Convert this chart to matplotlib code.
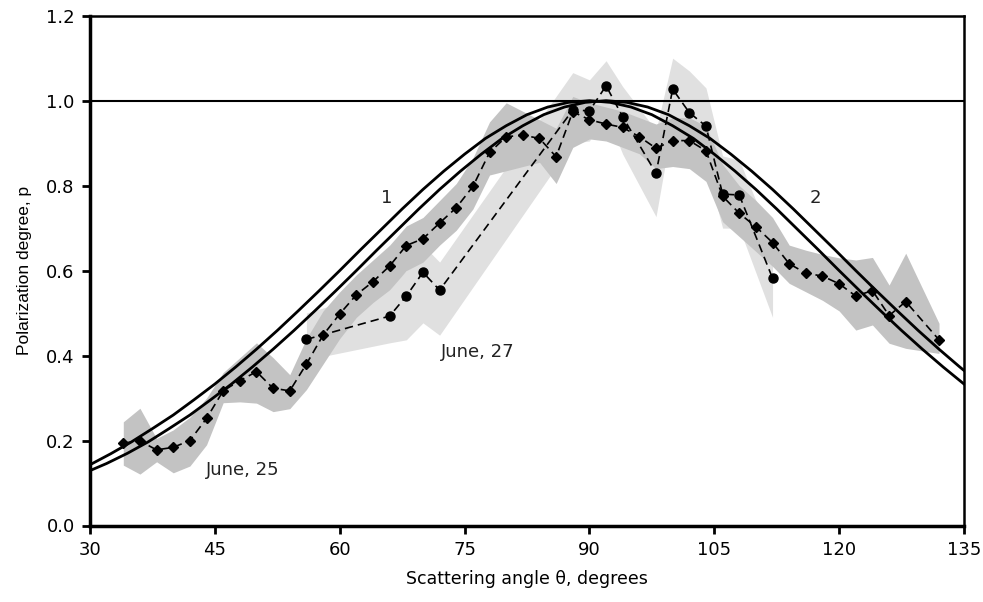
import matplotlib
matplotlib.use('Agg')
import matplotlib.pyplot as plt
import numpy as np

plt.rcParams['font.family'] = ['DejaVu Sans']

# June 25 observations (diamonds) and the dark band around them
ang25 = [34, 36, 38, 40, 42, 44, 46, 48, 50, 52, 54, 56, 58, 60, 62, 64, 66, 68, 70, 72,
         74, 76, 78, 80, 82, 84, 86, 88, 90, 92, 94, 96, 98, 100, 102, 104, 106, 108, 110,
         112, 114, 116, 118, 120, 122, 124, 126, 128, 132]
p25 = [0.194, 0.199, 0.178, 0.184, 0.200, 0.252, 0.317, 0.341, 0.362, 0.323, 0.317, 0.380,
       0.448, 0.498, 0.543, 0.574, 0.611, 0.659, 0.675, 0.712, 0.748, 0.798, 0.878, 0.915,
       0.919, 0.911, 0.868, 0.974, 0.955, 0.945, 0.937, 0.915, 0.888, 0.906, 0.906, 0.882,
       0.775, 0.735, 0.703, 0.666, 0.616, 0.594, 0.587, 0.569, 0.540, 0.553, 0.494, 0.527, 0.437]
hi25 = [0.244, 0.276, 0.205, 0.225, 0.255, 0.300, 0.360, 0.395, 0.430, 0.395, 0.355, 0.440,
        0.505, 0.550, 0.590, 0.625, 0.660, 0.705, 0.725, 0.765, 0.805, 0.865, 0.950, 0.995,
        0.975, 0.955, 0.935, 1.010, 0.995, 0.985, 0.975, 0.960, 0.945, 0.960, 0.960, 0.940,
        0.850, 0.800, 0.765, 0.725, 0.660, 0.648, 0.638, 0.630, 0.625, 0.631, 0.566, 0.641, 0.476]
lo25 = [0.142, 0.121, 0.150, 0.124, 0.140, 0.190, 0.289, 0.291, 0.288, 0.268, 0.275, 0.320,
        0.380, 0.440, 0.490, 0.525, 0.555, 0.600, 0.620, 0.660, 0.695, 0.745, 0.825, 0.835,
        0.845, 0.855, 0.805, 0.890, 0.910, 0.905, 0.890, 0.875, 0.840, 0.845, 0.840, 0.810,
        0.715, 0.680, 0.645, 0.610, 0.570, 0.550, 0.530, 0.505, 0.460, 0.472, 0.429, 0.417, 0.405]

# June 27 observations (circles) and the light band around them
ang27 = [56, 66, 68, 70, 72, 88, 90, 92, 94, 98, 100, 102, 104, 106, 108, 112]
p27 = [0.438, 0.493, 0.540, 0.596, 0.554, 0.978, 0.976, 1.035, 0.962, 0.829, 1.027,
       0.972, 0.940, 0.780, 0.778, 0.582]
hi27 = [0.500, 0.560, 0.600, 0.660, 0.620, 1.066, 1.049, 1.094, 1.033, 0.930, 1.100,
        1.070, 1.030, 0.870, 0.860, 0.670]
lo27 = [0.390, 0.430, 0.437, 0.477, 0.448, 0.900, 0.905, 0.970, 0.874, 0.727, 0.950,
        0.870, 0.850, 0.700, 0.700, 0.490]

# model curves 1 and 2
ang_c1 = np.arange(30, 135.01, 2.5)
p_c1 = [0.143, 0.169, 0.197, 0.228, 0.260, 0.296, 0.333, 0.373, 0.415, 0.459, 0.505, 0.552,
        0.600, 0.649, 0.697, 0.745, 0.791, 0.834, 0.874, 0.911, 0.941, 0.967, 0.985, 0.996,
        1.000, 0.996, 0.985, 0.967, 0.941, 0.911, 0.874, 0.834, 0.791, 0.745, 0.697, 0.649,
        0.600, 0.552, 0.505, 0.459, 0.415, 0.373, 0.333]
ang_c2 = np.arange(29.5, 137.01, 2.5)
p_c2 = [0.125, 0.146, 0.170, 0.197, 0.228, 0.260, 0.296, 0.333, 0.373, 0.415, 0.459, 0.505,
        0.552, 0.600, 0.649, 0.697, 0.745, 0.791, 0.834, 0.874, 0.911, 0.941, 0.967, 0.985,
        0.996, 1.000, 0.996, 0.985, 0.967, 0.941, 0.911, 0.874, 0.834, 0.791, 0.745, 0.697,
        0.649, 0.600, 0.552, 0.505, 0.459, 0.415, 0.373, 0.333]

fig = plt.figure(figsize=(9.83, 6.02), dpi=100)
ax = fig.add_axes([90/983, 1 - 525.5/602, (964 - 90)/983, (525.5 - 15.7)/602])

ax.fill_between(ang27, lo27, hi27, color='#e0e0e0', lw=0, zorder=1)
ax.fill_between(ang25, lo25, hi25, color='#c3c3c3', lw=0, zorder=2)

ax.axhline(1.0, color='black', lw=1.5, zorder=3)
ax.plot(ang_c1, p_c1, color='black', lw=2, zorder=4)
ax.plot(ang_c2, p_c2, color='black', lw=2, zorder=4)

ax.plot(ang25, p25, color='black', ls=(0, (5, 3)), lw=1.2, marker='D', ms=4.8, zorder=5)
ax.plot(ang27, p27, color='black', ls=(0, (5, 3)), lw=1.2, marker='o', ms=6.5, zorder=5)

ax.text(65.6, 0.77, '1', fontsize=13, ha='center', va='center', color='#222222')
ax.text(117.1, 0.77, '2', fontsize=13, ha='center', va='center', color='#222222')
ax.text(76.6, 0.408, 'June, 27', fontsize=13, ha='center', va='center', color='#222222')
ax.text(48.4, 0.131, 'June, 25', fontsize=13, ha='center', va='center', color='#222222')

ax.set_xlim(30, 135)
ax.set_ylim(0, 1.2)
ax.set_xticks([30, 45, 60, 75, 90, 105, 120, 135])
ax.set_yticks([0.0, 0.2, 0.4, 0.6, 0.8, 1.0, 1.2])
ax.set_yticklabels(['0.0', '0.2', '0.4', '0.6', '0.8', '1.0', '1.2'])
ax.tick_params(direction='out', length=6, width=2, labelsize=13, pad=5)
for side in ['left', 'bottom']:
    ax.spines[side].set_linewidth(2.5)
for side in ['top', 'right']:
    ax.spines[side].set_linewidth(1.8)

ax.set_xlabel('Scattering angle θ, degrees', fontsize=12.5, labelpad=8)
ax.set_ylabel('Polarization degree, p', fontsize=12.5, labelpad=10,
              family=['Liberation Sans', 'DejaVu Sans'])

fig.savefig('out.png', dpi=100)
